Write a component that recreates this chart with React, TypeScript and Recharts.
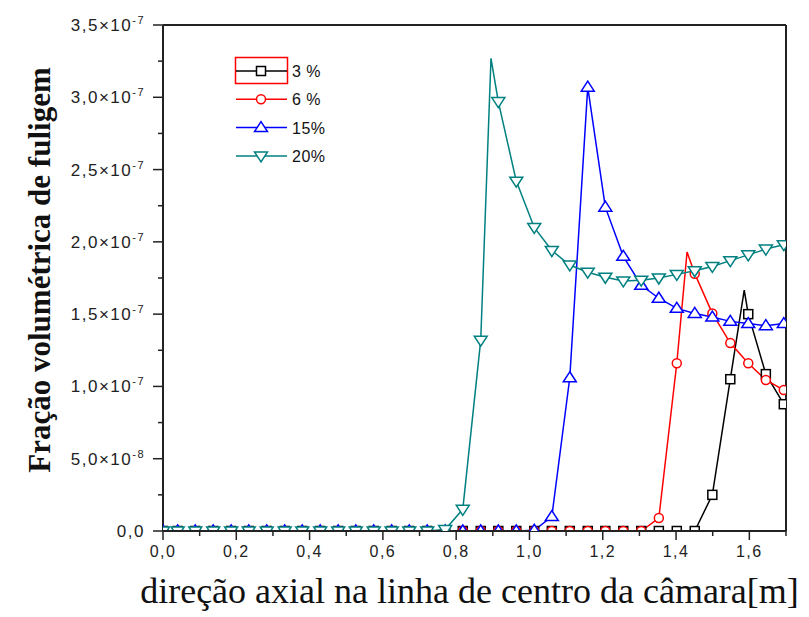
import React from "react"
import { LineChart, Line, XAxis, YAxis } from "recharts"

// axial positions of the marked points [m]
const xGrid = [
  0, 0.04, 0.088, 0.137, 0.186, 0.234, 0.283, 0.332, 0.38, 0.429, 0.478, 0.526,
  0.575, 0.624, 0.672, 0.721, 0.77, 0.818, 0.867, 0.915, 0.964, 1.013, 1.061, 1.11,
  1.159, 1.207, 1.256, 1.305, 1.353, 1.402, 1.451, 1.499, 1.548, 1.597, 1.645, 1.694,
]

// soot volume fraction, in units of 1e-7
const frac3 = [
  0, 0, 0, 0, 0, 0, 0, 0, 0, 0, 0, 0, 0, 0, 0, 0, 0, 0, 0, 0, 0, 0, 0, 0, 0, 0, 0, 0,
  0, 0, 0, 0.25, 1.05, 1.5, 1.085, 0.877,
]
const frac6 = [
  0, 0, 0, 0, 0, 0, 0, 0, 0, 0, 0, 0, 0, 0, 0, 0, 0, 0, 0, 0, 0, 0, 0, 0, 0, 0, 0, 0,
  0.09, 1.16, 1.78, 1.505, 1.3, 1.16, 1.045, 0.975,
]
const frac15 = [
  0, 0, 0, 0, 0, 0, 0, 0, 0, 0, 0, 0, 0, 0, 0, 0, 0, 0, 0, 0, 0, 0.005, 0.1, 1.06,
  3.07, 2.24, 1.9, 1.7, 1.61, 1.54, 1.505, 1.48, 1.45, 1.435, 1.42, 1.435,
]
const frac20 = [
  0, 0, 0, 0, 0, 0, 0, 0, 0, 0, 0, 0, 0, 0, 0, 0, 0.01, 0.15, 1.32, 2.97, 2.42, 2.1,
  1.94, 1.84, 1.79, 1.755, 1.73, 1.735, 1.75, 1.775, 1.8, 1.83, 1.87, 1.91, 1.95, 1.98,
]

// apexes that sit between markers (drawn without a marker): [x, y]
const peak3 = [1.586, 1.666]
const peak6 = [1.43, 1.93]
const peak20 = [0.895, 3.27]

const xTicks = [0, 0.1, 0.2, 0.3, 0.4, 0.5, 0.6, 0.7, 0.8, 0.9, 1, 1.1, 1.2, 1.3, 1.4, 1.5, 1.6, 1.7]
const yTicks = [0, 0.25, 0.5, 0.75, 1, 1.25, 1.5, 1.75, 2, 2.25, 2.5, 2.75, 3, 3.25, 3.5]
const frameTicks = [0, 0.1, 0.2, 0.3, 0.4, 0.5, 0.6, 0.7, 0.8, 0.9, 1]

type Shape = "square" | "circle" | "up" | "down"

const series: { name: string; ys: number[]; peak?: number[]; color: string; shape: Shape }[] = [
  { name: "3 %", ys: frac3, peak: peak3, color: "#000000", shape: "square" },
  { name: "6 %", ys: frac6, peak: peak6, color: "#ff0000", shape: "circle" },
  { name: "15%", ys: frac15, color: "#0000ff", shape: "up" },
  { name: "20%", ys: frac20, peak: peak20, color: "#008080", shape: "down" },
]

function build(ys: number[], peak?: number[]) {
  const pts = xGrid.map((x, i) => ({ x, y: ys[i], mark: true }))
  if (peak) pts.push({ x: peak[0], y: peak[1], mark: false })
  return pts.sort((a, b) => a.x - b.x)
}

function Marker({ cx, cy, shape, color }: { cx: number; cy: number; shape: Shape; color: string }) {
  const common = { fill: "#ffffff", stroke: color, strokeWidth: 1.5 }
  if (shape === "square") return <rect x={cx - 4.5} y={cy - 4.5} width={9} height={9} {...common} />
  if (shape === "circle") return <circle cx={cx} cy={cy} r={4.5} {...common} />
  if (shape === "up")
    return <polygon points={`${cx},${cy - 6} ${cx + 6.5},${cy + 4} ${cx - 6.5},${cy + 4}`} {...common} />
  return <polygon points={`${cx - 6.5},${cy - 4} ${cx + 6.5},${cy - 4} ${cx},${cy + 6}`} {...common} />
}

// markers that sit on the x axis are cut by the plot frame, only the top half shows
function SeriesDot({ p, s }: { p: any; s: (typeof series)[number] }) {
  if (!p.payload.mark) return <g />
  if (p.payload.y > 0) return <Marker cx={p.cx} cy={p.cy} shape={s.shape} color={s.color} />
  const id = `clip-${s.shape}-${p.index}`
  return (
    <g>
      <clipPath id={id}>
        <rect x={p.cx - 10} y={p.cy - 10} width={20} height={9} />
      </clipPath>
      <g clipPath={`url(#${id})`}>
        <Marker cx={p.cx} cy={p.cy} shape={s.shape} color={s.color} />
      </g>
    </g>
  )
}

const label = (v: number) => v.toFixed(1).replace(".", ",")

function BottomTick({ x, y, payload }: any) {
  const v = payload.value
  const major = Math.round(v * 10) % 2 === 0
  return (
    <g>
      <line x1={x} x2={x} y1={y} y2={y + (major ? 9 : 5)} stroke="#222" strokeWidth={1.5} />
      {major && v < 1.65 && (
        <text x={x} y={y + 26} textAnchor="middle" fontSize={16} letterSpacing={1.5} fill="#222"
          fontFamily="Liberation Sans, Arial, sans-serif">
          {label(v)}
        </text>
      )}
    </g>
  )
}

function LeftTick({ x, y, payload }: any) {
  const v = payload.value
  const major = Math.round(v * 4) % 2 === 0
  let text: React.ReactNode = null
  if (major) {
    if (v === 0) text = "0,0"
    else if (v < 1)
      text = (
        <>
          {label(v * 10)}×10<tspan dy={-7} fontSize={11}>-8</tspan>
        </>
      )
    else
      text = (
        <>
          {label(v)}×10<tspan dy={-7} fontSize={11}>-7</tspan>
        </>
      )
  }
  return (
    <g>
      <line x1={x - (major ? 10 : 5)} x2={x} y1={y} y2={y} stroke="#222" strokeWidth={1.5} />
      {text && (
        <text x={x - 18} y={y + 6} textAnchor="end" fontSize={17} letterSpacing={1.5} fill="#222"
          fontFamily="Liberation Sans, Arial, sans-serif">
          {text}
        </text>
      )}
    </g>
  )
}

function TopTick({ x, y }: any) {
  return <line x1={x} x2={x} y1={y} y2={y + 4} stroke="#222" strokeWidth={1.5} />
}

function RightTick({ x, y }: any) {
  return <line x1={x - 6} x2={x} y1={y} y2={y} stroke="#222" strokeWidth={1.5} />
}

function LegendBox() {
  return (
    <svg width={110} height={115} style={{ position: "absolute", left: 235, top: 57, overflow: "visible" }}>
      <rect x={0.5} y={0.5} width={52} height={26} fill="none" stroke="#ff0000" strokeWidth={1.5} />
      {series.map((s, i) => {
        const cy = 14 + i * 28.3
        return (
          <g key={s.name}>
            <line x1={1} x2={52} y1={cy} y2={cy} stroke={s.color} strokeWidth={1.5} />
            <Marker cx={26} cy={cy} shape={s.shape} color={s.color} />
            <text x={57} y={cy + 6} fontSize={16} letterSpacing={0.5} fill="#111"
              fontFamily="Liberation Sans, Arial, sans-serif">
              {s.name}
            </text>
          </g>
        )
      })}
    </svg>
  )
}

export default function App() {
  return (
    <div style={{ position: "absolute", left: 0, top: 0, width: 809, height: 617, background: "#fff" }}>
      <LineChart width={809} height={617} margin={{ top: 24, right: 22, left: 0, bottom: 0 }}>
        <XAxis
          xAxisId="top"
          orientation="top"
          type="number"
          domain={[0, 1]}
          ticks={frameTicks}
          height={1}
          tickSize={0}
          tickMargin={0}
          tickLine={false}
          tick={<TopTick />}
          axisLine={{ stroke: "#222", strokeWidth: 2 }}
        />
        <YAxis
          yAxisId="right"
          orientation="right"
          type="number"
          domain={[0, 1]}
          ticks={frameTicks}
          width={1}
          tickSize={0}
          tickMargin={0}
          tickLine={false}
          tick={<RightTick />}
          axisLine={{ stroke: "#222", strokeWidth: 2 }}
        />
        <XAxis
          dataKey="x"
          type="number"
          domain={[0, 1.7]}
          ticks={xTicks}
          allowDataOverflow
          height={86}
          tickSize={0}
          tickMargin={0}
          tickLine={false}
          tick={<BottomTick />}
          axisLine={{ stroke: "#222", strokeWidth: 2 }}
          label={{
            content: ({ viewBox }: any) => (
              <text x={viewBox.x + viewBox.width / 2 - 5} y={viewBox.y + 72} textAnchor="middle"
                fontSize={36} fill="#111" fontFamily="Liberation Serif, Times New Roman, serif">
                direção axial na linha de centro da câmara[m]
              </text>
            ),
          }}
        />
        <YAxis
          type="number"
          domain={[0, 3.5]}
          ticks={yTicks}
          allowDataOverflow
          width={163}
          tickSize={0}
          tickMargin={0}
          tickLine={false}
          tick={<LeftTick />}
          axisLine={{ stroke: "#222", strokeWidth: 2 }}
          label={{
            content: ({ viewBox }: any) => {
              const cx = 39
              const cy = viewBox.y + viewBox.height / 2 - 8
              return (
                <text x={cx} y={cy} transform={`rotate(-90 ${cx} ${cy})`} textAnchor="middle"
                  dominantBaseline="central" fontSize={31} fontWeight="bold" fill="#111"
                  fontFamily="Liberation Serif, Times New Roman, serif">
                  Fração volumétrica de fuligem
                </text>
              )
            },
          }}
        />
        {series.map((s) => (
          <Line
            key={s.name}
            name={s.name}
            data={build(s.ys, s.peak)}
            dataKey="y"
            type="linear"
            stroke={s.color}
            strokeWidth={1.5}
            isAnimationActive={false}
            activeDot={false}
            dot={(p: any) => <SeriesDot key={p.index} p={p} s={s} />}
          />
        ))}
      </LineChart>
      <LegendBox />
    </div>
  )
}
